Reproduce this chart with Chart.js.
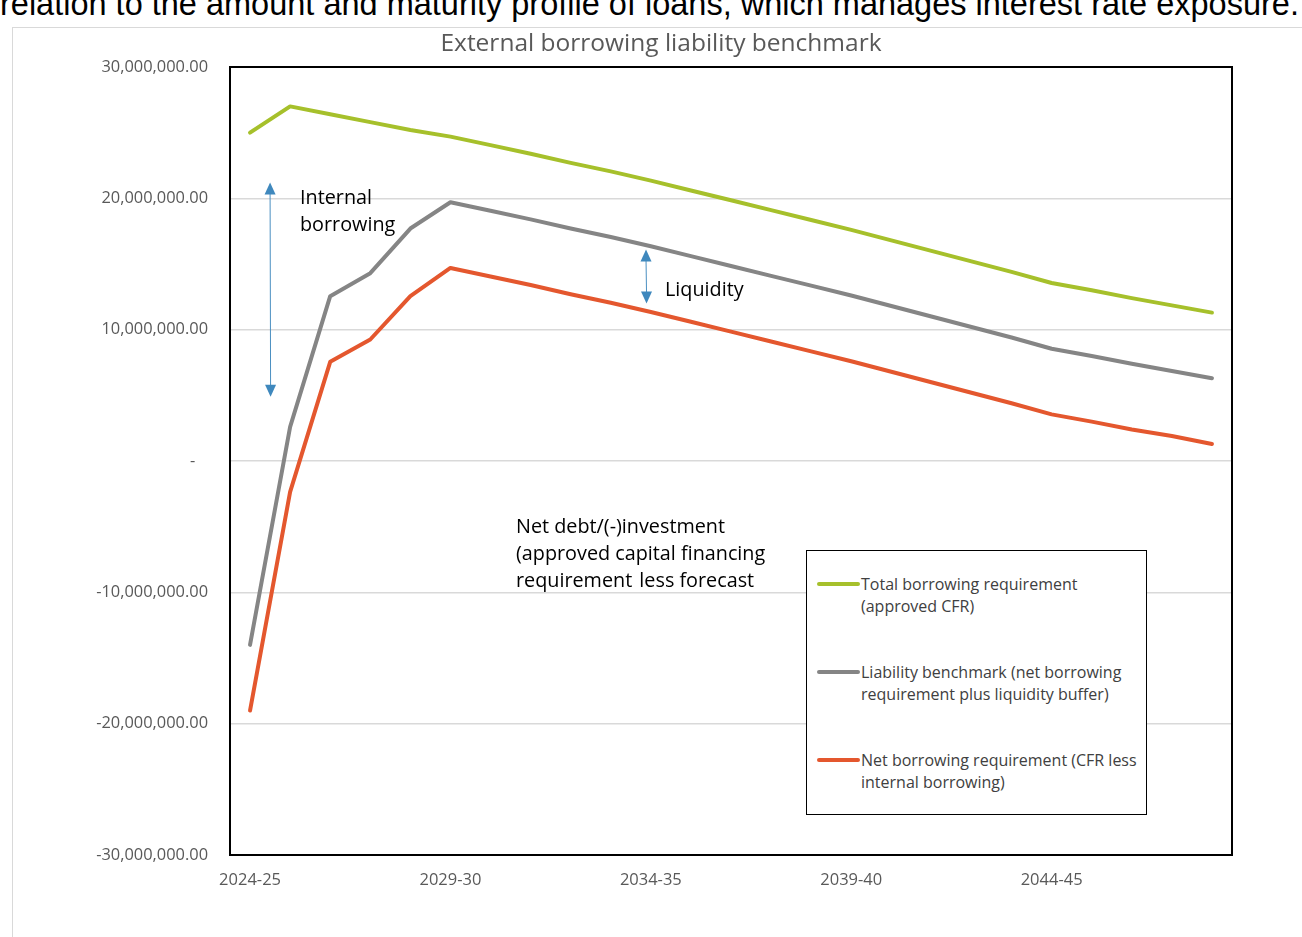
<!DOCTYPE html>
<html>
<head>
<meta charset="utf-8">
<title>External borrowing liability benchmark</title>
<script src="https://cdn.jsdelivr.net/npm/chart.js@4.4.1/dist/chart.umd.min.js"></script>
<style>
    body { margin: 0; background: #fff; overflow: hidden; }
    #wrap { position: relative; width: 1302px; height: 937px; overflow: hidden; font-family: "Open Sans", sans-serif; }
    #lead { position: absolute; left: 0; top: -12px; font: 32.5px/32px "Liberation Sans", Arial, sans-serif; color: #000; white-space: nowrap; }
    #frame { position: absolute; left: 12px; top: 27px; width: 1320px; height: 960px; border: 1px solid #d9d9d9; }
    #chart { position: absolute; left: 0; top: 0; }
    .title { position: absolute; left: 0; width: 1322px; top: 25px; text-align: center; font-size: 24.5px; line-height: 33px; color: #595959; }
    .note { position: absolute; font-size: 19.8px; line-height: 27px; color: #000; white-space: nowrap; }
    #legend { position: absolute; left: 806px; top: 550px; width: 339px; height: 263px; border: 1.5px solid #000; background: #fff; }
    .item { position: absolute; left: 10px; font-size: 16px; line-height: 22px; color: #404040; white-space: nowrap; }
    .item i { position: absolute; left: 0; top: 9px; width: 43px; height: 4px; border-radius: 2px; }
    .item span { position: absolute; left: 44px; top: 0; }
</style>
</head>
<body>
<div id="wrap">
    <div id="lead">relation to the amount and maturity profile of loans, which manages interest rate exposure.</div>
    <div id="frame"></div>
    <canvas id="chart" width="1302" height="937"></canvas>
    <div class="title">External borrowing liability benchmark</div>
    <div class="note" style="left:300px;top:183px;">Internal<br>borrowing</div>
    <div class="note" style="left:665px;top:275px;">Liquidity</div>
    <div class="note" style="left:516px;top:512px;">Net debt/(-)investment<br>(approved capital financing<br>requirement <span style="margin-left:2px">less forecast</span></div>
    <div id="legend">
        <div class="item" style="top:22px;"><i style="background:#a6c02b"></i><span>Total borrowing requirement<br>(approved CFR)</span></div>
        <div class="item" style="top:110px;"><i style="background:#858585"></i><span>Liability benchmark (net borrowing<br>requirement plus liquidity buffer)</span></div>
        <div class="item" style="top:198px;"><i style="background:#e4572e"></i><span>Net borrowing requirement (CFR less<br>internal borrowing)</span></div>
    </div>
</div>
<script>
const years = [
    '2024-25', '2025-26', '2026-27', '2027-28', '2028-29',
    '2029-30', '2030-31', '2031-32', '2032-33', '2033-34',
    '2034-35', '2035-36', '2036-37', '2037-38', '2038-39',
    '2039-40', '2040-41', '2041-42', '2042-43', '2043-44',
    '2044-45', '2045-46', '2046-47', '2047-48', '2048-49'
];

// values in millions
const totalBorrowing = [
    25.0, 27.0, 26.4, 25.8, 25.2,
    24.7, 24.05, 23.4, 22.7, 22.05,
    21.35, 20.6, 19.85, 19.1, 18.35,
    17.6, 16.8, 16.0, 15.2, 14.4,
    13.55, 13.0, 12.4, 11.85, 11.3
];
const liabilityBenchmark = [
    -14.0, 2.6, 12.55, 14.3, 17.7,
    19.7, 19.05, 18.4, 17.7, 17.05,
    16.35, 15.6, 14.85, 14.1, 13.35,
    12.6, 11.8, 11.0, 10.2, 9.4,
    8.55, 8.0, 7.4, 6.85, 6.3
];
const netBorrowing = [
    -19.0, -2.35, 7.55, 9.25, 12.55,
    14.7, 14.05, 13.4, 12.7, 12.05,
    11.35, 10.6, 9.85, 9.1, 8.35,
    7.6, 6.8, 6.0, 5.2, 4.4,
    3.55, 3.0, 2.4, 1.9, 1.3
];

const yTicks = { min: -30000000, max: 30000000, step: 10000000 };

// double arrows: [category index, top value, bottom value] (millions)
const arrows = [
    [0.5, 21.2, 4.9],
    [9.88, 16.1, 12.0]
];

const M = 1000000;
const toAbs = arr => arr.map(v => v * M);

const boxAndArrows = {
    id: 'boxAndArrows',
    beforeDatasetsDraw(chart) {
        const { ctx, chartArea: a } = chart;
        ctx.save();
        ctx.strokeStyle = '#000';
        ctx.lineWidth = 2;
        ctx.strokeRect(a.left, a.top, a.right - a.left, a.bottom - a.top);
        ctx.restore();
    },
    afterDatasetsDraw(chart) {
        const { ctx } = chart;
        const x = chart.scales.x, y = chart.scales.y;
        ctx.save();
        ctx.strokeStyle = '#4a8fc1';
        ctx.fillStyle = '#3f88bd';
        ctx.lineWidth = 1;
        arrows.forEach(([i, top, bottom]) => {
            const px = x.getPixelForValue(0) + i * (x.getPixelForValue(1) - x.getPixelForValue(0));
            const y1 = y.getPixelForValue(top * M);
            const y2 = y.getPixelForValue(bottom * M);
            ctx.beginPath();
            ctx.moveTo(px, y1 + 10);
            ctx.lineTo(px + 0.5, y2 - 10);
            ctx.stroke();
            ctx.beginPath();
            ctx.moveTo(px, y1);
            ctx.lineTo(px - 5.5, y1 + 12);
            ctx.lineTo(px + 5.5, y1 + 12);
            ctx.closePath();
            ctx.fill();
            ctx.beginPath();
            ctx.moveTo(px + 0.5, y2);
            ctx.lineTo(px - 5, y2 - 12);
            ctx.lineTo(px + 6, y2 - 12);
            ctx.closePath();
            ctx.fill();
        });
        ctx.restore();
    }
};

function lineSet(label, data, color) {
    return {
        label: label,
        data: toAbs(data),
        borderColor: color,
        backgroundColor: color,
        borderWidth: 4,
        pointRadius: 0,
        tension: 0,
        borderCapStyle: 'round',
        borderJoinStyle: 'round'
    };
}

new Chart(document.getElementById('chart'), {
    type: 'line',
    data: {
        labels: years,
        datasets: [
            lineSet('Total borrowing requirement (approved CFR)', totalBorrowing, '#a6c02b'),
            lineSet('Liability benchmark (net borrowing requirement plus liquidity buffer)', liabilityBenchmark, '#858585'),
            lineSet('Net borrowing requirement (CFR less internal borrowing)', netBorrowing, '#e4572e')
        ]
    },
    options: {
        responsive: false,
        animation: false,
        layout: { padding: { top: 67, right: 70, left: 0, bottom: 0 } },
        plugins: {
            legend: { display: false },
            title: { display: false },
            tooltip: { enabled: false }
        },
        scales: {
            x: {
                offset: true,
                grid: { display: false, drawTicks: false },
                border: { display: false },
                afterFit(s) { s.height = 82; },
                ticks: {
                    autoSkip: false,
                    maxRotation: 0,
                    padding: 15,
                    color: '#595959',
                    font: { family: 'Open Sans', size: 16.5 },
                    callback(v, i) { return i % 5 === 0 ? years[i] : ''; }
                }
            },
            y: {
                min: yTicks.min,
                max: yTicks.max,
                afterFit(s) { s.width = 230; },
                grid: { color: '#d9d9d9', lineWidth: 1.5, drawTicks: false },
                border: { display: false },
                ticks: {
                    stepSize: yTicks.step,
                    padding: 22,
                    color: '#595959',
                    font: { family: 'Open Sans', size: 16.4 },
                    callback(v) {
                        if (v === 0) return '-   ';
                        return v.toLocaleString('en-US', { minimumFractionDigits: 2, maximumFractionDigits: 2 });
                    }
                }
            }
        }
    },
    plugins: [boxAndArrows]
});
</script>
</body>
</html>
